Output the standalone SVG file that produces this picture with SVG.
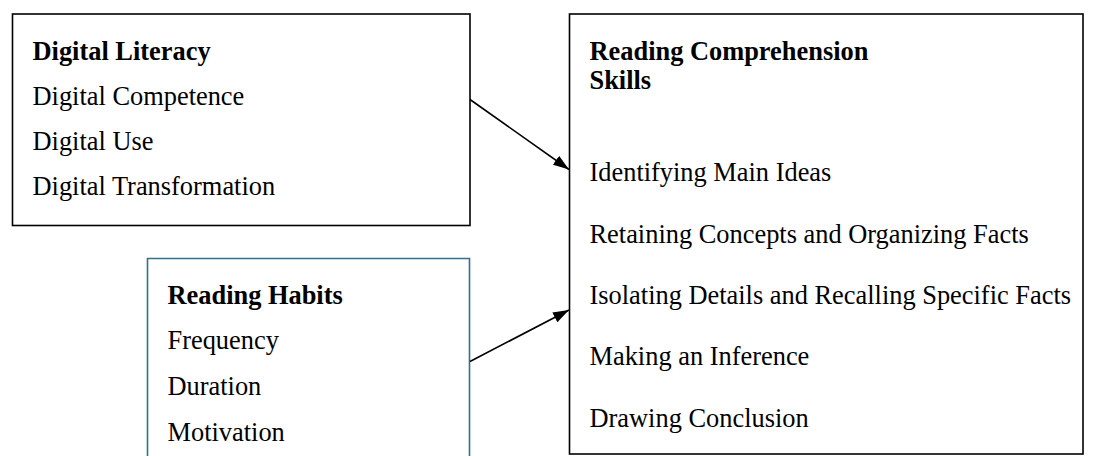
<svg xmlns="http://www.w3.org/2000/svg" width="1097" height="456" viewBox="0 0 1097 456">
<defs>
<style>
.box{fill:#fff;stroke:#000;stroke-width:1.6}
.blue{fill:#fff;stroke:#2f7191;stroke-width:1.6}
text{font-family:"Liberation Serif","Times New Roman",serif;font-size:26.4px;fill:#000}
.b{font-weight:bold}
.conn{stroke:#000;stroke-width:1.6;fill:none;marker-end:url(#ah)}
</style>
<marker id="ah" markerWidth="16" markerHeight="11" refX="16" refY="5.5" orient="auto" markerUnits="userSpaceOnUse">
<path d="M0,0 L16,5.5 L0,11 Z" fill="#000"/>
</marker>
</defs>
<rect width="1097" height="456" fill="#fff"/>
<g id="digital-literacy">
<rect class="box" x="12.5" y="14" width="457.5" height="211.5"/>
<text class="b" x="32.5" y="59.5">Digital Literacy</text>
<text x="32.5" y="104.5">Digital Competence</text>
<text x="32.5" y="149.5">Digital Use</text>
<text x="32.5" y="195">Digital Transformation</text>
</g>
<g id="reading-habits">
<path class="blue" d="M147.5,460 V258.5 H469.5 V460"/>
<text class="b" x="167.5" y="303.5">Reading Habits</text>
<text x="167.5" y="349">Frequency</text>
<text x="167.5" y="395">Duration</text>
<text x="167.5" y="440.5">Motivation</text>
</g>
<g id="reading-comprehension">
<rect class="box" x="569.5" y="14" width="513.5" height="440"/>
<text class="b" x="589.5" y="59.5">Reading Comprehension</text>
<text class="b" x="589.5" y="88.5">Skills</text>
<text x="589.5" y="181">Identifying Main Ideas</text>
<text x="589.5" y="242.5">Retaining Concepts and Organizing Facts</text>
<text x="589.5" y="304">Isolating Details and Recalling Specific Facts</text>
<text x="589.5" y="365">Making an Inference</text>
<text x="589.5" y="426.5">Drawing Conclusion</text>
</g>
<g id="connectors">
<line class="conn" x1="470" y1="99.5" x2="569" y2="169.5"/>
<line class="conn" x1="470" y1="361.5" x2="569" y2="310"/>
</g>
</svg>
